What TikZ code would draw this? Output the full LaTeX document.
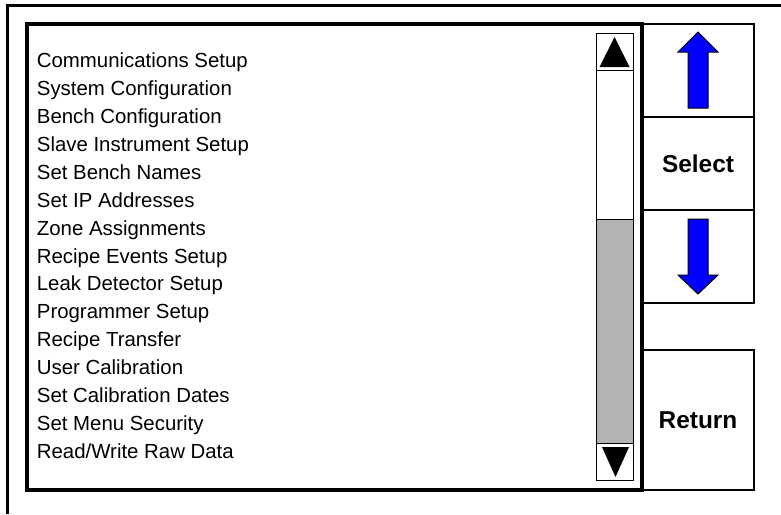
\documentclass[tikz,border=0pt]{standalone}
\usepackage{fontspec}
\setmainfont{Liberation Sans}
\definecolor{thumbgray}{HTML}{B3B3B3}
\begin{document}
\begin{tikzpicture}[x=0.5pt, y=-0.5pt,
    button/.style ={draw, line width=1pt, minimum width=56pt, minimum height=46.5pt, inner sep=0pt,
                    font=\fontsize{12.2}{14}\selectfont\bfseries},
    menuitem/.style ={anchor=base west, inner sep=0pt, font=\fontsize{10.2}{12}\selectfont},
    scrollpart/.style ={draw, line width=0.5pt, minimum width=18.5pt, inner sep=0pt},
    bluearrow/.style ={fill=blue, draw=black, line width=0.5pt}]
   \useasboundingbox (0,0) rectangle (781,514);

   % outer panel
   \draw[line width=1.5pt] (7.5,514) -- (7.5,5) -- (781,5);

   % buttons
   \node[button] (up)     at (698,70.5)  {};
   \node[button] (select) at (698,163.5) {Select};
   \node[button] (down)   at (698,256.5) {};
   \node[button, minimum height=70pt] (return) at (698,420) {Return};

   \filldraw[bluearrow] (698,32) -- (718,52) -- (708,52) -- (708,108)
        -- (688,108) -- (688,52) -- (678,52) -- cycle;
   \filldraw[bluearrow] (698,294) -- (718,275) -- (708,275) -- (708,219)
        -- (688,219) -- (688,275) -- (678,275) -- cycle;

   % menu list
   \foreach \txt [count=\i] in {Communications Setup, System Configuration,
        Bench Configuration, Slave Instrument Setup, Set Bench Names,
        Set IP Addresses, Zone Assignments, Recipe Events Setup,
        Leak Detector Setup, Programmer Setup, Recipe Transfer,
        User Calibration, Set Calibration Dates, Set Menu Security,
        Read/Write Raw Data}
      \node[menuitem] (item\i) at (36.5,{67.5+27.93*(\i-1)}) {\txt};

   % scroll bar
   \node[scrollpart, minimum height=223.5pt] (track) at (614.5,256.5) {};
   \node[scrollpart, minimum height=112pt, fill=thumbgray] (thumb) at (614.5,331) {};
   \node[scrollpart, minimum height=18.85pt] (scrollup)   at (614.5,51.85) {};
   \node[scrollpart, minimum height=18.5pt]  (scrolldown) at (614.5,461.5) {};
   \fill (614.5,37) -- (629.5,67) -- (599.5,67) -- cycle;
   \fill (615.5,477) -- (629,447) -- (602,447) -- cycle;

   % screen frame
   \draw[line width=2pt] (27,24) rectangle (642,490);
\end{tikzpicture}
\end{document}
